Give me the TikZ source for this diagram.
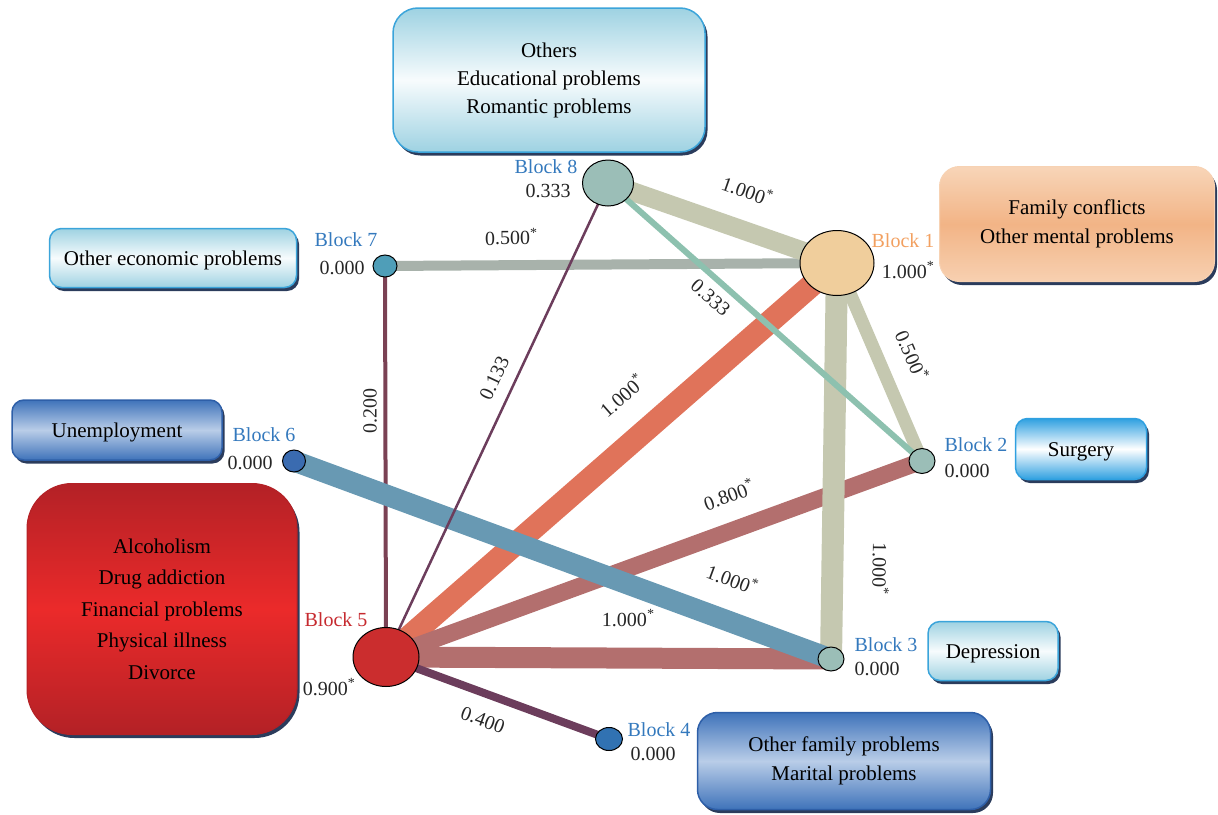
\documentclass[tikz,border=0pt]{standalone}
\usepackage{fontspec}
\setmainfont{Liberation Serif}
\usepackage{xcolor}
\usepackage{tikz}
\usetikzlibrary{shapes,positioning,shadows,calc}
\pgfdeclarelayer{bg}
\pgfsetlayers{bg,main}

\definecolor{cyanline}{HTML}{3BA4DA}
\definecolor{cyantop}{HTML}{9ED2E2}
\definecolor{shadowblue}{HTML}{2B3C5C}
\definecolor{surgtop}{HTML}{2FA0E0}
\definecolor{bluetop}{HTML}{3F73BA}
\definecolor{bluemid}{HTML}{B9CDE8}
\definecolor{blueline}{HTML}{2E5FA8}
\definecolor{redtop}{HTML}{B32126}
\definecolor{redmid}{HTML}{EB2A2A}
\definecolor{peachtop}{HTML}{F8D5B8}
\definecolor{peachmid}{HTML}{F2B486}
\definecolor{blocktext}{HTML}{3479BD}
\definecolor{blockorange}{HTML}{F2A060}
\definecolor{blockred}{HTML}{C62A2F}
\definecolor{ebeige}{HTML}{C5C8B0}
\definecolor{egray}{HTML}{A8B2AB}
\definecolor{eteal}{HTML}{8DC1AF}
\definecolor{eorange}{HTML}{E0735A}
\definecolor{emauve}{HTML}{B36F6E}
\definecolor{esteel}{HTML}{6899B3}
\definecolor{edark}{HTML}{7A4154}
\definecolor{eplum}{HTML}{6C3D5C}
\definecolor{nteal}{HTML}{9BBEB7}
\definecolor{npeach}{HTML}{F0CE9C}
\definecolor{ncyan}{HTML}{4F9EB8}
\definecolor{nblue}{HTML}{3A6BB0}
\definecolor{nred}{HTML}{CB2D2E}
\definecolor{nblueb}{HTML}{3172B2}

\begin{document}
\begin{tikzpicture}[
			x = 1pt, y = -1pt,
			every node/.style = {font = \fontsize{20}{27}\selectfont},
			blk/.style = {ellipse, draw=black, line width=1pt, inner sep=0pt},
			catbox/.style = {rounded corners=#1, align=center, inner sep=0pt, font=\fontsize{21}{28}\selectfont,
				drop shadow={shadow xshift=2.5pt, shadow yshift=-3.5pt, fill=shadowblue, opacity=1}},
			txtdrop/.style = {execute at begin node={\rule{0pt}{#1}}},
			cyanbox/.style = {catbox=#1, draw=cyanline, line width=1.5pt, top color=cyantop, bottom color=cyantop, middle color=white!92!cyantop},
			surgbox/.style = {catbox=#1, draw=surgtop, line width=1.5pt, top color=surgtop, bottom color=surgtop, middle color=white},
			bluebox/.style = {catbox=#1, draw=blueline, line width=1.5pt, top color=bluetop, bottom color=bluetop, middle color=bluemid},
			redbox/.style = {catbox=#1, draw=redtop, line width=1pt, top color=redtop, bottom color=redtop, middle color=redmid},
			peachbox/.style = {catbox=#1, draw=peachtop!90!peachmid, line width=1pt, top color=peachtop, bottom color=peachtop!85!peachmid, middle color=peachmid},
			conn/.style = {draw=#1},
			blklbl/.style = {text=blocktext, inner sep=0pt},
			vallbl/.style = {text=black!85, inner sep=0pt},
			wlbl/.style = {sloped, inner sep=1pt, text=black!85},
		]

			\useasboundingbox (0,0) rectangle (1218,814);

			\node[cyanbox=25pt, txtdrop=22pt, minimum width=312pt, minimum height=144pt] (others) at (549,80) {Others\\Educational problems\\Romantic problems};
			\node[peachbox=20pt, txtdrop=22pt, minimum width=275pt, minimum height=115pt, font=\fontsize{21}{29}\selectfont] (famconf) at (1077,224) {Family conflicts\\Other mental problems};
			\node[cyanbox=12pt, txtdrop=20pt, minimum width=247pt, minimum height=59pt] (econ) at (173,258) {Other economic problems};
			\node[bluebox=12pt, txtdrop=20pt, minimum width=210pt, minimum height=60pt] (unemp) at (117,430) {Unemployment};
			\node[redbox=45pt, txtdrop=25pt, minimum width=270pt, minimum height=251pt, font=\fontsize{21}{31.5}\selectfont] (alco) at (162,609) {Alcoholism\\Drug addiction\\Financial problems\\Physical illness\\Divorce};
			\node[surgbox=12pt, txtdrop=20pt, minimum width=131pt, minimum height=61pt] (surg) at (1081,449) {Surgery};
			\node[cyanbox=12pt, txtdrop=20pt, minimum width=130pt, minimum height=59pt] (depr) at (993,651) {Depression};
			\node[bluebox=20pt, txtdrop=26pt, minimum width=293pt, minimum height=97pt, font=\fontsize{21}{29}\selectfont] (famprob) at (844,761) {Other family problems\\Marital problems};

			\node[blk, fill=npeach, minimum width=74pt, minimum height=65pt] (b1) at (837,263) {};
			\node[blk, fill=nteal, minimum width=26pt, minimum height=25pt] (b2) at (922,461) {};
			\node[blk, fill=nteal, minimum width=26pt, minimum height=24pt] (b3) at (831,659) {};
			\node[blk, fill=nblueb, minimum width=27pt, minimum height=23pt] (b4) at (609,739) {};
			\node[blk, fill=nred, minimum width=66pt, minimum height=59pt] (b5) at (386,657) {};
			\node[blk, fill=nblue, minimum width=23pt, minimum height=22pt] (b6) at (294,461) {};
			\node[blk, fill=ncyan, minimum width=24pt, minimum height=22pt] (b7) at (385,266) {};
			\node[blk, fill=nteal, minimum width=51pt, minimum height=46pt] (b8) at (608,183) {};

			\begin{pgfonlayer}{bg}
				\draw[conn=egray, line width=10pt] (b7.center) -- node[wlbl, pos=0.28, above=14pt] (w71) {0.500\textsuperscript{*}} (b1.center);
				\draw[conn=edark, line width=4pt] (b5.center) -- node[wlbl, allow upside down, pos=0.63, above=5.5pt] (w57) {0.200} (b7.center);
				\draw[conn=eorange, line width=23pt] (b5.center) -- node[wlbl, pos=0.584, above=21pt] (w51) {1.000\textsuperscript{*}} (b1.center);
				\draw[conn=emauve, line width=17pt] (b5.center) -- node[wlbl, pos=0.662, above=17pt] (w52) {0.800\textsuperscript{*}} (b2.center);
				\draw[conn=emauve, line width=21pt] (b5.center) -- node[wlbl, pos=0.544, above=20pt] (w53) {1.000\textsuperscript{*}} (b3.center);
				\draw[conn=ebeige, line width=22pt] (b1.center) -- node[wlbl, allow upside down, pos=0.77, above=28pt] (w13) {1.000\textsuperscript{*}} (b3.center);
				\draw[conn=ebeige, line width=19pt] (b8.center) -- node[wlbl, pos=0.553, above=20pt] (w81) {1.000\textsuperscript{*}} (b1.center);
				\draw[conn=ebeige, line width=13pt] (b1.center) -- node[wlbl, pos=0.53, above=17pt] (w12) {0.500\textsuperscript{*}} (b2.center);
				\draw[conn=esteel, line width=21pt] (b6.center) -- node[wlbl, pos=0.79, above=21pt] (w63) {1.000\textsuperscript{*}} (b3.center);
				\draw[conn=eplum, line width=2.5pt] (b5.center) -- node[wlbl, pos=0.57, above=11pt] (w58) {0.133} (b8.center);
				\draw[conn=eteal, line width=6pt] (b8.center) -- node[wlbl, pos=0.364, below=7pt] (w82) {0.333} (b2.center);
				\draw[conn=eplum, line width=8pt] (b5.center) -- node[wlbl, pos=0.474, below=14pt] (w54) {0.400} (b4.center);
			\end{pgfonlayer}

			\node[blklbl, text=blockorange] (l1) at (903,241) {Block 1};
			\node[vallbl] (v1) at (908,270) {1.000\textsuperscript{*}};
			\node[blklbl] (l2) at (976,445) {Block 2};
			\node[vallbl] (v2) at (967,471) {0.000};
			\node[blklbl] (l3) at (886,645) {Block 3};
			\node[vallbl] (v3) at (877,669) {0.000};
			\node[blklbl] (l4) at (659,730) {Block 4};
			\node[vallbl] (v4) at (653,754) {0.000};
			\node[blklbl, text=blockred] (l5) at (336,620) {Block 5};
			\node[vallbl] (v5) at (329,687) {0.900\textsuperscript{*}};
			\node[blklbl] (l6) at (264,435) {Block 6};
			\node[vallbl] (v6) at (250,463) {0.000};
			\node[blklbl] (l7) at (346,240) {Block 7};
			\node[vallbl] (v7) at (342,268) {0.000};
			\node[blklbl] (l8) at (546,167) {Block 8};
			\node[vallbl] (v8) at (548,191) {0.333};

		\end{tikzpicture}
\end{document}
